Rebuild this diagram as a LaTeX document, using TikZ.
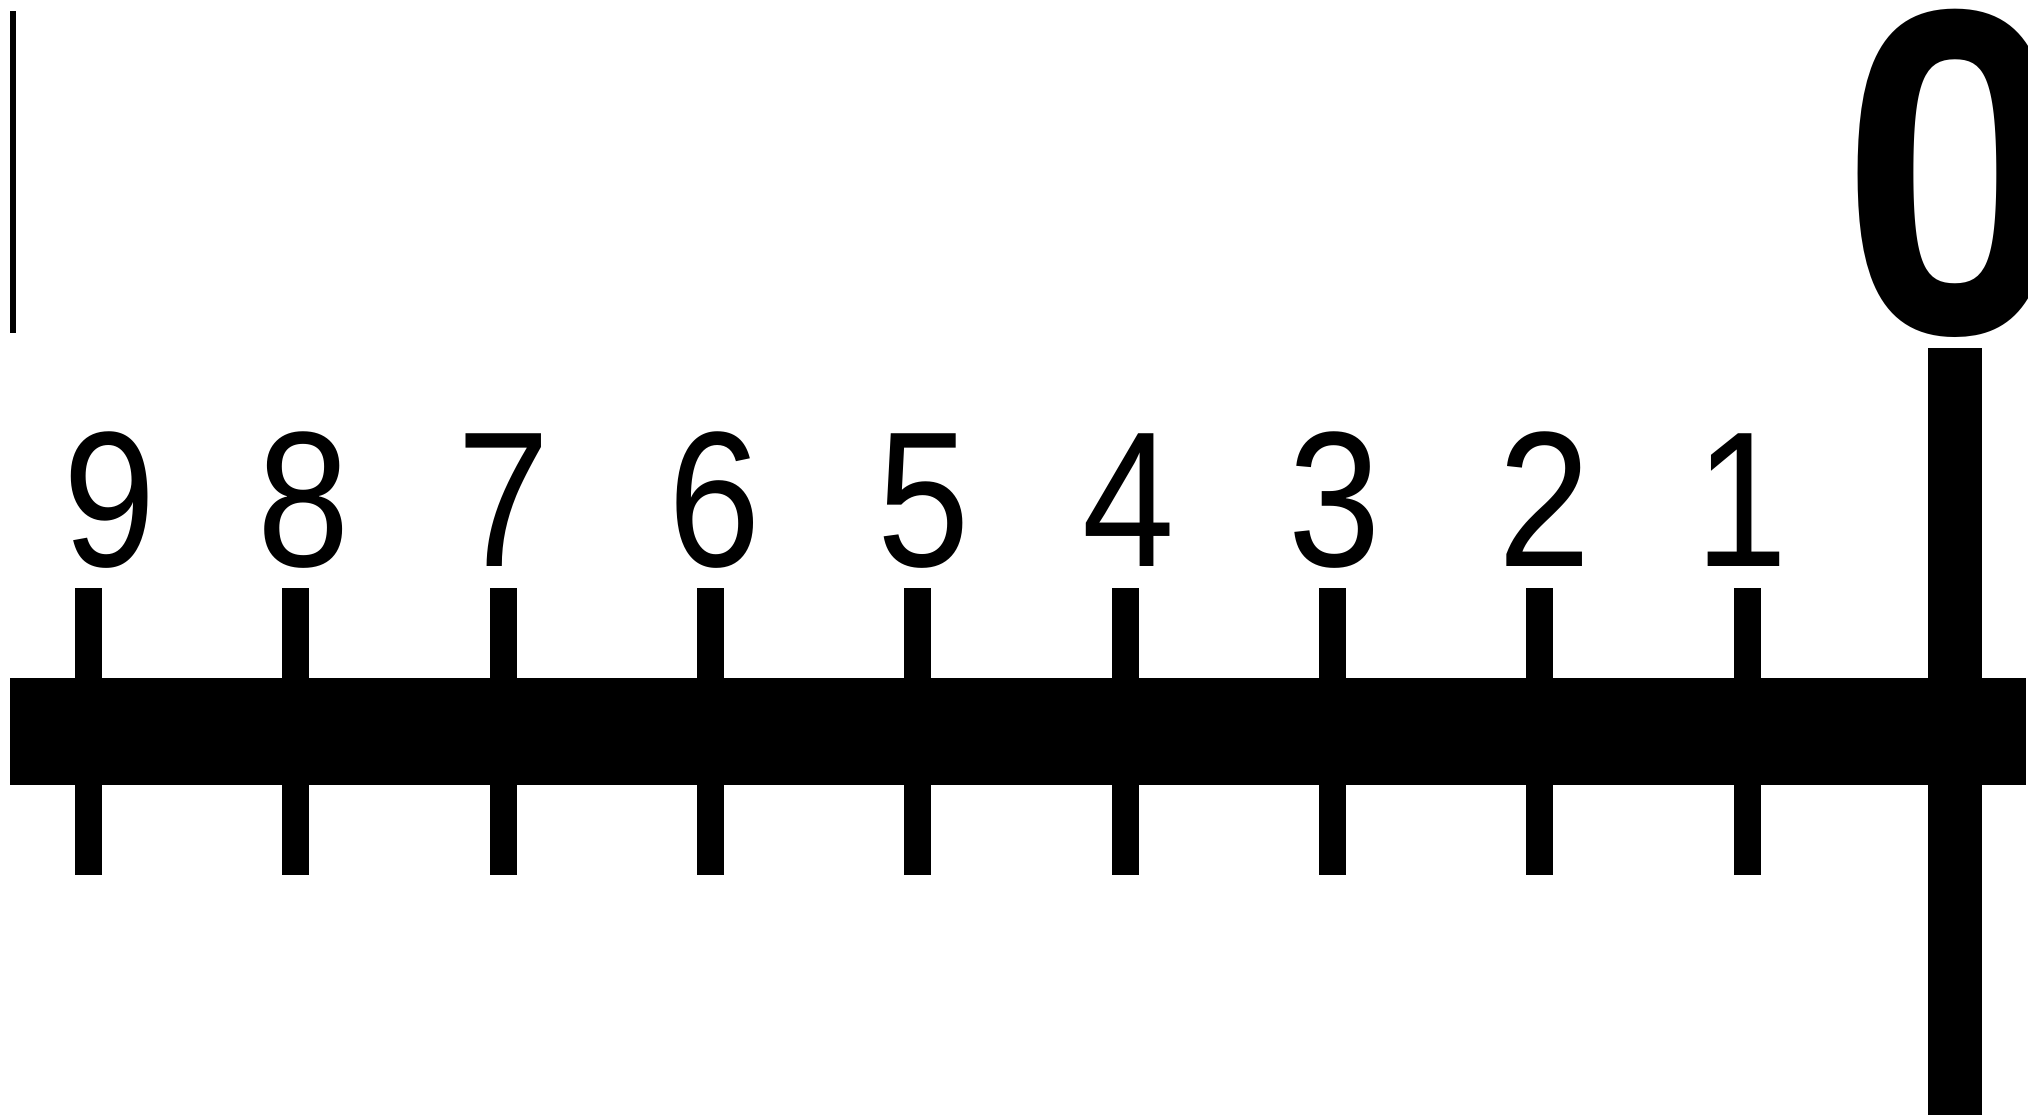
\documentclass[tikz,border=0pt]{standalone}
\usepackage{fontspec}
\setmainfont{Liberation Sans}
\newfontfamily\zerofont{TeX Gyre Heros}
\begin{document}
\begin{tikzpicture}[x=1pt,y=-1pt,
  ink/.style={fill=black,draw=none},
  digit/.style={anchor=base,inner sep=0pt,xscale=0.86,font=\fontsize{193}{195}\selectfont},
  bignum/.style={anchor=base,inner sep=0pt,xscale=0.89,font=\zerofont\bfseries\fontsize{448}{450}\selectfont}]
\useasboundingbox (0,0) rectangle (2030,1115);
% thin line top left
\fill[ink] (10,11) rectangle (15.7,333);
% main bar
\fill[ink] (10.4,678) rectangle (2026,785);
% ticks
\foreach \i in {1,...,9}{
  \pgfmathsetmacro\cx{1747-(\i-1)*207.3}
  \fill[ink] (\cx-13.5,588) rectangle (\cx+13.5,875);
}
% digits
\foreach \i/\dx in {9/110,8/304,7/503.5,6/715,5/924,4/1128.5,3/1334.7,2/1545,1/1742}{
  \node[digit] (d\i) at (\dx,566) {\i};
}
% zero post
\fill[ink] (1927.7,347.7) rectangle (1982,1115);
\begin{scope}
  \clip (1800,0) rectangle (2027,1115);
  \node[bignum] (zero) at (1957.5,334) {0};
\end{scope}
\end{tikzpicture}
\end{document}
